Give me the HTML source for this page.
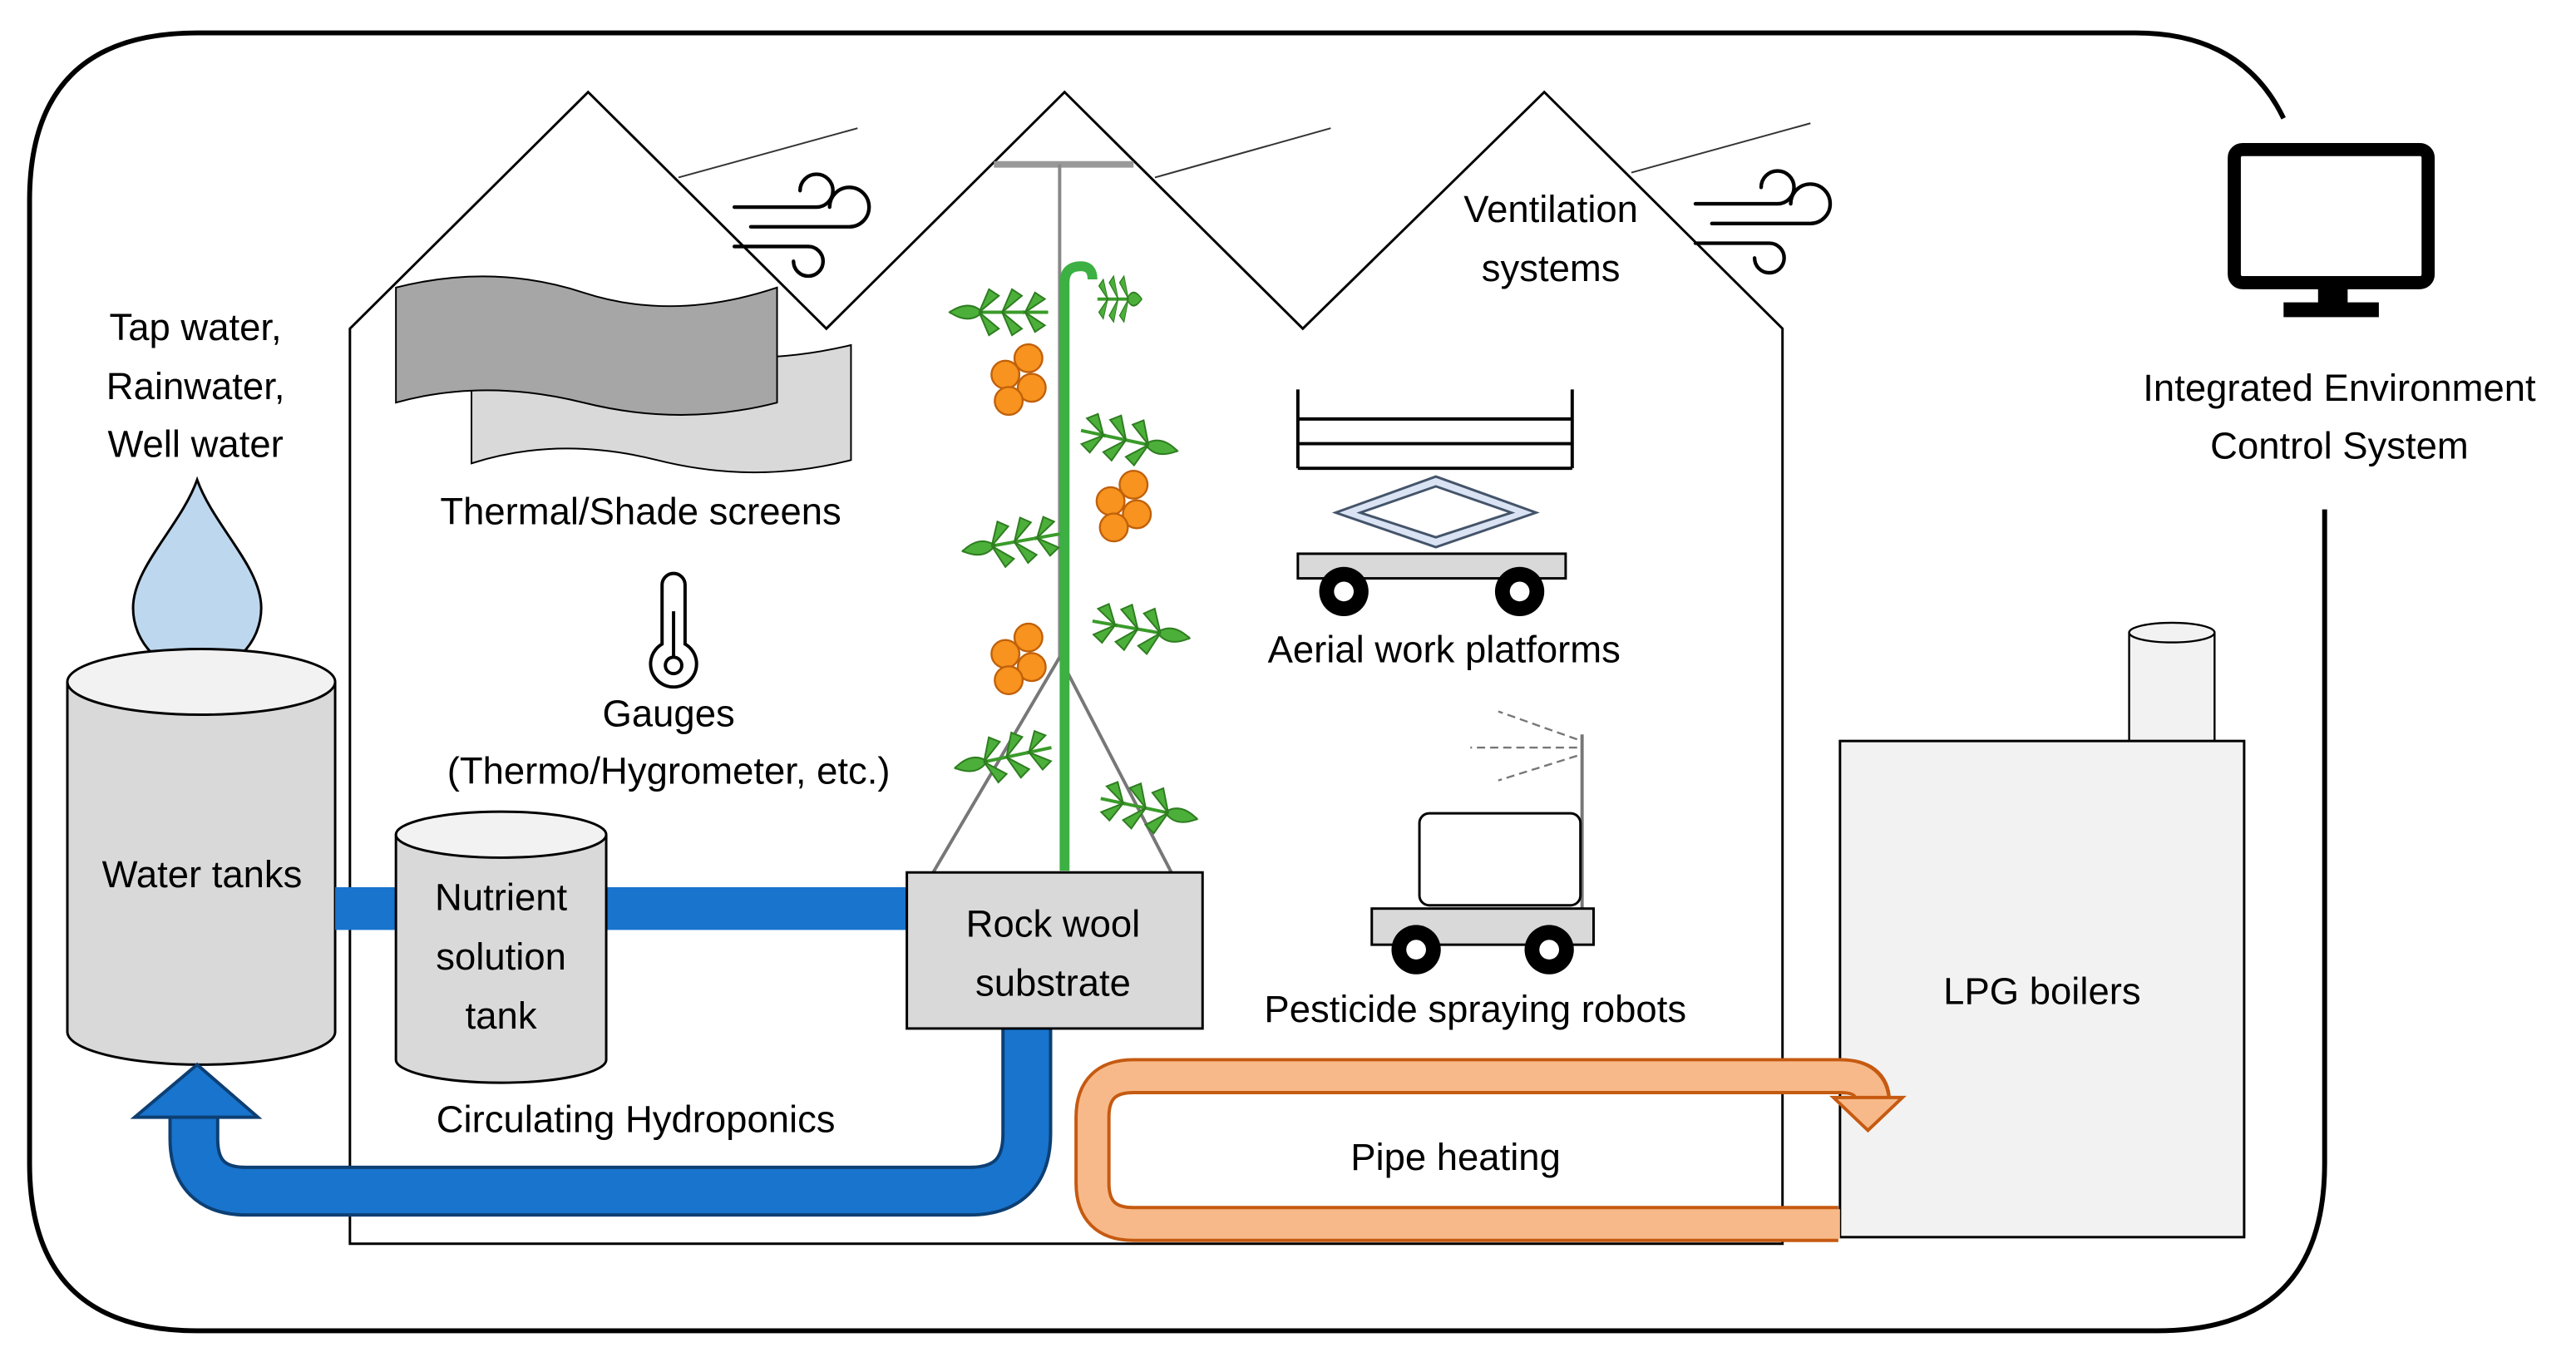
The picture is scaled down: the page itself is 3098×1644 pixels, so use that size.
<!DOCTYPE html>
<html><head><meta charset="utf-8"><style>
html,body{margin:0;padding:0;background:#fff}
svg{display:block}
text{font-family:"Liberation Sans","Noto Sans CJK JP",sans-serif;font-size:23px;fill:#000;text-anchor:middle}
</style></head><body>
<svg width="3098" height="1644" viewBox="0 0 1568 832" xmlns="http://www.w3.org/2000/svg">
<defs>
<g id="leaf">
 <line x1="0" y1="0" x2="60" y2="0" stroke="#3a9b2a" stroke-width="2"/>
 <g fill="#4caf3a" stroke="#2e7d20" stroke-width="1">
  <path d="M60,0 q-12,-8 -20,0 q8,8 20,0z"/>
  <path d="M42,0 l-6,-14 l-6,4z"/><path d="M42,0 l-6,14 l-6,-4z"/>
  <path d="M28,0 l-6,-14 l-6,4z"/><path d="M28,0 l-6,14 l-6,-4z"/>
  <path d="M14,0 l-6,-12 l-6,4z"/><path d="M14,0 l-6,12 l-6,-4z"/>
 </g>
</g>
<g id="tom" fill="#f7931e" stroke="#c0600a" stroke-width="1.2">
 <circle cx="0" cy="0" r="8.5"/><circle cx="-14" cy="10" r="8.5"/><circle cx="2" cy="18" r="8.5"/><circle cx="-12" cy="26" r="8.5"/>
</g>
<g id="wind" fill="none" stroke="#000" stroke-width="2.2" stroke-linecap="round">
 <path d="M0,18 H50 a10,10 0 1 0 -10,-10"/>
 <path d="M10,30 H70 a12,12 0 1 0 -12,-12"/>
 <path d="M0,42 H45 a9,9 0 1 1 -9,9"/>
</g>
</defs>

<path d="M1390,72 Q1365,20 1300,20 L120,20 Q18,20 18,122 L18,708 Q18,810 120,810 L1313,810 Q1415,810 1415,708 L1415,310" fill="none" stroke="#000" stroke-width="3"/>

<path d="M213,757 L213,200 L358,56 L503,200 L648,56 L793,200 L940,56 L1085,200 L1085,757 Z" fill="#fff" stroke="#000" stroke-width="1.5"/>

<g stroke="#333" stroke-width="1"><line x1="413" y1="108" x2="522" y2="78"/><line x1="703" y1="108" x2="810" y2="78"/><line x1="993" y1="105" x2="1102" y2="75"/></g>
<use href="#wind" x="447" y="108"/>
<use href="#wind" x="1032" y="106"/>

<line x1="605" y1="100" x2="690" y2="100" stroke="#999" stroke-width="4"/>
<line x1="645" y1="100" x2="645" y2="400" stroke="#888" stroke-width="2"/>
<line x1="645" y1="400" x2="568" y2="531" stroke="#777" stroke-width="2"/>
<line x1="645" y1="400" x2="713" y2="531" stroke="#777" stroke-width="2"/>

<path d="M287,210 Q345,195 400,210 T518,210 L518,280 Q460,295 400,280 T287,282 Z" fill="#d9d9d9" stroke="#000" stroke-width="1"/>
<path d="M241,175 Q300,160 355,178 T473,175 L473,245 Q415,260 355,245 T241,245 Z" fill="#a6a6a6" stroke="#000" stroke-width="1"/>
<text x="390" y="319">Thermal/Shade screens</text>

<path d="M403,356 a7,7 0 0 1 14,0 V392 a14,14 0 1 1 -14,0 Z" fill="#fff" stroke="#000" stroke-width="2"/>
<circle cx="410" cy="405" r="5" fill="none" stroke="#000" stroke-width="2"/>
<line x1="410" y1="372" x2="410" y2="400" stroke="#000" stroke-width="2"/>
<text x="407" y="442">Gauges</text>
<text x="407" y="477">(Thermo/Hygrometer, etc.)</text>

<text x="119" y="207">Tap water,</text>
<text x="119" y="243">Rainwater,</text>
<text x="119" y="278">Well water</text>
<path d="M120,292 C110,320 81,345 81,370 a39,39 0 0 0 78,0 C159,345 130,320 120,292Z" fill="#bdd7ee" stroke="#000" stroke-width="1.5"/>

<path d="M41,415 V628 a81.5,20 0 0 0 163,0 V415" fill="#d9d9d9" stroke="#000" stroke-width="1.5"/>
<ellipse cx="122.5" cy="415" rx="81.5" ry="20" fill="#f2f2f2" stroke="#000" stroke-width="1.5"/>
<text x="123" y="540">Water tanks</text>

<rect x="204" y="540" width="37" height="26" fill="#1874cd"/>
<rect x="369" y="540" width="183" height="26" fill="#1874cd"/>

<path d="M241,508 V645 a64,14 0 0 0 128,0 V508" fill="#d9d9d9" stroke="#000" stroke-width="1.5"/>
<ellipse cx="305" cy="508" rx="64" ry="14" fill="#f2f2f2" stroke="#000" stroke-width="1.5"/>
<text x="305" y="554">Nutrient</text>
<text x="305" y="590">solution</text>
<text x="305" y="626">tank</text>

<path d="M625,626 L625,690 Q625,725 590,725 L150,725 Q118,725 118,693 L118,678" fill="none" stroke="#0d3f73" stroke-width="31"/>
<path d="M625,625 L625,690 Q625,725 590,725 L150,725 Q118,725 118,693 L118,676" fill="none" stroke="#1874cd" stroke-width="27"/>
<polygon points="82,680 120,648 157,680" fill="#1874cd" stroke="#0d3f73" stroke-width="2"/>
<text x="387" y="689">Circulating Hydroponics</text>

<rect x="552" y="531" width="180" height="95" fill="#d9d9d9" stroke="#000" stroke-width="1.5"/>
<text x="641" y="570">Rock wool</text>
<text x="641" y="606">substrate</text>

<path d="M648,530 V172 q0,-10 10,-10 q7,0 7,8" fill="none" stroke="#3cb043" stroke-width="6"/>
<use href="#leaf" transform="translate(638,190) scale(-1,1)"/>
<use href="#leaf" transform="translate(668,182) scale(0.45,1)"/>
<use href="#leaf" transform="translate(658,262) rotate(12)"/>
<use href="#leaf" transform="translate(645,325) rotate(170)"/>
<use href="#leaf" transform="translate(665,378) rotate(10)"/>
<use href="#leaf" transform="translate(640,455) rotate(168)"/>
<use href="#leaf" transform="translate(670,486) rotate(12)"/>
<use href="#tom" x="626" y="218"/>
<use href="#tom" x="690" y="295"/>
<use href="#tom" x="626" y="388"/>

<text x="944" y="135">Ventilation</text>
<text x="944" y="171">systems</text>

<g stroke="#000" stroke-width="2" fill="none">
<line x1="790" y1="237" x2="790" y2="285"/><line x1="957" y1="237" x2="957" y2="285"/>
<line x1="790" y1="255" x2="957" y2="255"/><line x1="790" y1="270" x2="957" y2="270"/><line x1="790" y1="285" x2="957" y2="285"/>
</g>
<g fill="#dae3f3" stroke="#44546a" stroke-width="1.5">
<path d="M813,312 L874,290 L935,312 L874,333 Z M828,312 L874,296 L920,312 L874,327 Z" fill-rule="evenodd"/>
</g>
<rect x="790" y="337" width="163" height="15" fill="#d9d9d9" stroke="#000" stroke-width="1.5"/>
<circle cx="818" cy="360" r="15" fill="#000"/><circle cx="818" cy="360" r="6" fill="#fff"/>
<circle cx="925" cy="360" r="15" fill="#000"/><circle cx="925" cy="360" r="6" fill="#fff"/>
<text x="879" y="403">Aerial work platforms</text>

<g stroke="#777" stroke-width="1.2" stroke-dasharray="5,3" fill="none">
<line x1="960" y1="450" x2="912" y2="433"/><line x1="960" y1="455" x2="895" y2="455"/><line x1="960" y1="460" x2="912" y2="475"/>
</g>
<line x1="963" y1="447" x2="963" y2="555" stroke="#777" stroke-width="2"/>
<rect x="864" y="495" width="98" height="56" rx="6" fill="#fff" stroke="#000" stroke-width="1.5"/>
<rect x="835" y="553" width="135" height="22" fill="#d9d9d9" stroke="#000" stroke-width="1.5"/>
<circle cx="862" cy="578" r="15" fill="#000"/><circle cx="862" cy="578" r="6" fill="#fff"/>
<circle cx="943" cy="578" r="15" fill="#000"/><circle cx="943" cy="578" r="6" fill="#fff"/>
<text x="898" y="622">Pesticide spraying robots</text>

<rect x="1296" y="385" width="52" height="66" fill="#f2f2f2" stroke="#000" stroke-width="1.2"/>
<ellipse cx="1322" cy="385" rx="26" ry="6" fill="#f2f2f2" stroke="#000" stroke-width="1.2"/>
<rect x="1120" y="451" width="246" height="302" fill="#f2f2f2" stroke="#000" stroke-width="1.5"/>
<text x="1243" y="611">LPG boilers</text>

<path d="M1119,745 L690,745 Q665,745 665,720 L665,680 Q665,655 690,655 L1120,655 Q1140,655 1140,670" fill="none" stroke="#c55a11" stroke-width="22"/>
<path d="M1120,745 L690,745 Q665,745 665,720 L665,680 Q665,655 690,655 L1120,655 Q1140,655 1140,672" fill="none" stroke="#f8b98a" stroke-width="18"/>
<polygon points="1116,668 1158,668 1137,688" fill="#f8b98a" stroke="#c55a11" stroke-width="2"/>
<text x="886" y="712">Pipe heating</text>

<rect x="1360" y="91" width="118" height="81" rx="5" fill="#fff" stroke="#000" stroke-width="8"/>
<rect x="1411" y="174" width="18" height="12" fill="#000"/>
<rect x="1390" y="184" width="58" height="9" fill="#000"/>
<text x="1424" y="244">Integrated Environment</text>
<text x="1424" y="279">Control System</text>
</svg>
</body></html>
